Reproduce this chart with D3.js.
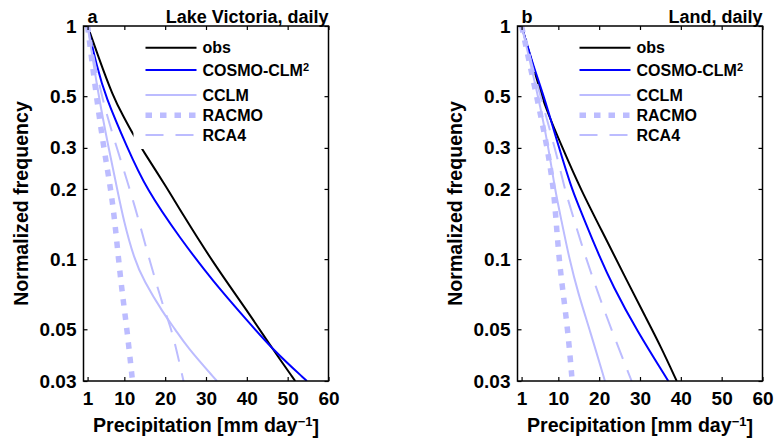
<!DOCTYPE html>
<html>
<head>
<meta charset="utf-8">
<script src="https://cdn.jsdelivr.net/npm/d3@7"></script>
<style>
    body { margin: 0; background: #fff; }
    text { font-family: "Liberation Sans", Arial, sans-serif; font-weight: bold; fill: #000; }
</style>
</head>
<body>
<div id="chart"></div>
<script>
// Data: [precipitation (mm/day), normalized frequency]
const panelLetters = ['a', 'b'];
const panelTitles = ['Lake Victoria, daily', 'Land, daily'];
const seriesNames = ['obs', 'COSMO-CLM', 'CCLM', 'RACMO', 'RCA4'];
const xTicks = [1, 10, 20, 30, 40, 50, 60];
const yTicks = [0.03, 0.05, 0.1, 0.2, 0.3, 0.5, 1];

const lakeObs = [[1, 1], [3.67, 0.736], [7.15, 0.502], [9.8, 0.408], [12.25, 0.34], [14.5, 0.2935], [20.6, 0.2], [23.68, 0.162], [31.84, 0.0958], [40.02, 0.0603], [46.53, 0.0406], [51.85, 0.03]];
const lakeCosmo = [[1, 1], [3.28, 0.669], [5.31, 0.502], [10.7, 0.301], [15.36, 0.2], [23.69, 0.1226], [31.84, 0.0798], [40.02, 0.0547], [46.53, 0.0406], [54.71, 0.03]];
const lakeCclm = [[1, 1], [3.67, 0.502], [6.12, 0.301], [8.25, 0.2], [9.8, 0.147], [12.42, 0.1], [14.7, 0.0812], [19.59, 0.0584], [22.46, 0.05], [25.32, 0.042], [32.67, 0.03]];
const lakeRacmo = [[1, 1], [3.11, 0.502], [4.95, 0.301], [6.66, 0.2], [7.64, 0.147], [8.57, 0.1], [9.55, 0.07], [10.65, 0.05], [12.0, 0.03]];
const lakeRca4 = [[1, 1], [4.26, 0.502], [8.13, 0.301], [11.32, 0.2], [13.52, 0.147], [16.09, 0.1], [20.01, 0.0584], [21.65, 0.05], [24.49, 0.03]];

const landObs = [[1, 1], [5.15, 0.558], [6.77, 0.45], [10.98, 0.301], [15.4, 0.2], [21.82, 0.1206], [26.73, 0.0812], [31.34, 0.0565], [35.14, 0.042], [38.99, 0.03]];
const landCosmo = [[1, 1], [3.92, 0.669], [6.45, 0.502], [10.13, 0.301], [13.32, 0.2], [14.42, 0.179], [19.37, 0.1092], [23.44, 0.076], [29.18, 0.0495], [36.93, 0.03]];
const landCclm = [[1, 1], [5.05, 0.502], [7.6, 0.301], [9.15, 0.2], [10.74, 0.147], [12.7, 0.1], [14.86, 0.0712], [17.73, 0.0495], [21.41, 0.03]];
const landRacmo = [[1, 1], [4.66, 0.502], [7.31, 0.301], [8.83, 0.2], [9.44, 0.147], [10.18, 0.1], [11.18, 0.0712], [12.41, 0.0479], [13.39, 0.03]];
const landRca4 = [[1, 1], [5.59, 0.502], [9.15, 0.301], [11.6, 0.2], [12.41, 0.179], [16.09, 0.1092], [19.76, 0.0712], [23.05, 0.0495], [27.95, 0.03]];

const panelSeries = [
    [lakeObs, lakeCosmo, lakeCclm, lakeRacmo, lakeRca4],
    [landObs, landCosmo, landCclm, landRacmo, landRca4]
];

const lightBlue = '#bcbcff',
    seriesStyles = [
        { color: '#000000', width: 2, dash: null },
        { color: '#0000ff', width: 2, dash: null },
        { color: lightBlue, width: 2, dash: null },
        { color: lightBlue, width: 5.5, dash: '6.5,8' },
        { color: lightBlue, width: 2, dash: '18,12' }
    ];

const totalWidth = 776,
    totalHeight = 445,
    panelLeft = [83.5, 517.5],
    plotTop = 26,
    width = 245,
    height = 355;

const svg = d3.select('#chart')
    .append('svg')
        .attr('width', totalWidth)
        .attr('height', totalHeight);

const x = d3.scaleLinear().domain([0, 60]).range([0, width]);
const y = d3.scaleLog().domain([0.03, 1]).range([height, 0]);

// smoothing spline so the hand-read points give clean curves
const line = d3.line()
    .x(function(d) { return x(d[0]); })
    .y(function(d) { return y(d[1]); })
    .curve(d3.curveBasis);

panelLetters.forEach(function(letter, p) {
    const g = svg.append('g')
        .attr('transform', `translate(${panelLeft[p]}, ${plotTop})`);

    g.append('clipPath')
        .attr('id', 'clip' + p)
        .append('rect')
            .attr('width', width)
            .attr('height', height);

    // curves
    g.append('g')
        .attr('clip-path', `url(#clip${p})`)
        .selectAll('path')
        .data(panelSeries[p])
        .enter()
        .append('path')
            .attr('fill', 'none')
            .attr('stroke', function(d, i) { return seriesStyles[i].color; })
            .attr('stroke-width', function(d, i) { return seriesStyles[i].width; })
            .attr('stroke-dasharray', function(d, i) { return seriesStyles[i].dash; })
            .attr('d', line);

    // legend (white box hides curves behind it)
    const legend = g.append('g').attr('transform', 'translate(50, 10)');
    legend.append('rect')
        .attr('width', 190)
        .attr('height', 113)
        .attr('fill', '#fff');

    const rowY = [11.7, 34, 59, 79.3, 99];
    seriesNames.forEach(function(name, i) {
        const s = seriesStyles[i];
        legend.append('line')
            .attr('x1', 12)
            .attr('x2', 63)
            .attr('y1', rowY[i])
            .attr('y2', rowY[i])
            .attr('stroke', s.color)
            .attr('stroke-width', s.width)
            .attr('stroke-dasharray', s.dash);
        const t = legend.append('text')
            .attr('x', 69)
            .attr('y', rowY[i])
            .attr('dy', '0.36em')
            .attr('font-size', 16)
            .text(name);
        if (i === 1) {
            t.append('tspan')
                .attr('dy', '-0.45em')
                .attr('font-size', 11)
                .text('2');
        }
    });

    // axes, ticks pointing inwards
    g.append('g')
        .attr('transform', `translate(0, ${height})`)
        .call(d3.axisBottom(x).tickValues(xTicks).tickSizeInner(-4).tickSizeOuter(0).tickPadding(10.5))
        .call(function(a) { a.select('.domain').remove(); })
        .call(function(a) { a.selectAll('text').attr('font-size', 19).attr('font-family', null); });

    g.append('g')
        .call(d3.axisTop(x).tickValues(xTicks).tickSizeInner(-4).tickSizeOuter(0).tickFormat(''))
        .call(function(a) { a.select('.domain').remove(); });

    g.append('g')
        .call(d3.axisLeft(y).tickValues(yTicks).tickSizeInner(-4).tickSizeOuter(0).tickPadding(7)
            .tickFormat(function(d) { return String(d); }))
        .call(function(a) { a.select('.domain').remove(); })
        .call(function(a) { a.selectAll('text').attr('font-size', 19).attr('font-family', null); });

    g.append('g')
        .attr('transform', `translate(${width}, 0)`)
        .call(d3.axisRight(y).tickValues(yTicks).tickSizeInner(-4).tickSizeOuter(0).tickFormat(''))
        .call(function(a) { a.select('.domain').remove(); });

    g.selectAll('.tick line').attr('stroke', '#000').attr('stroke-width', 1.2);

    g.append('rect')
        .attr('width', width)
        .attr('height', height)
        .attr('fill', 'none')
        .attr('stroke', '#000')
        .attr('stroke-width', 1.5);

    // panel letter and title
    g.append('text')
        .attr('x', 4)
        .attr('y', -3.5)
        .attr('font-size', 18)
        .text(letter);

    g.append('text')
        .attr('x', width)
        .attr('y', -3.5)
        .attr('text-anchor', 'end')
        .attr('font-size', 18)
        .text(panelTitles[p]);

    // axis labels
    const xLabel = g.append('text')
        .attr('x', width / 2)
        .attr('y', 405.5)
        .attr('text-anchor', 'middle')
        .attr('font-size', 19.6)
        .text('Precipitation [mm day');
    xLabel.append('tspan')
        .attr('dy', '-0.45em')
        .attr('font-size', 13)
        .text('\u22121');
    xLabel.append('tspan')
        .attr('dy', '0.45em')
        .attr('font-size', 19.6)
        .text(']');

    g.append('text')
        .attr('transform', `translate(-55.5, ${height / 2}) rotate(-90)`)
        .attr('text-anchor', 'middle')
        .attr('font-size', 19.6)
        .text('Normalized frequency');
});
</script>
</body>
</html>
